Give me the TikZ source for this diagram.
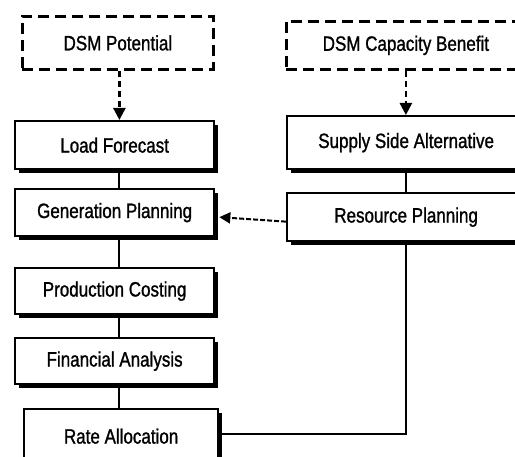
\documentclass[tikz,border=0pt]{standalone}
\usepackage{fontspec}
\setmainfont{Liberation Sans}
\newfontfamily\lblfont[FakeBold=1.3]{Liberation Sans}
\usepackage{graphicx}
\usetikzlibrary{arrows.meta,shadows}
\newcommand{\tl}[1]{\scalebox{1}[1.22]{#1}}
\begin{document}
\begin{tikzpicture}[x=1pt,y=-1pt,
  lbl/.style={font=\lblfont\fontsize{17}{20}\selectfont},
  solidbox/.style={draw, line width=2.3pt, fill=white, anchor=north west, inner sep=0pt, lbl,
    drop shadow={shadow xshift=4pt, shadow yshift=-4pt, fill=black, opacity=1}},
  dashbox/.style={draw, line width=2.8pt, dash pattern=on 11pt off 6pt, anchor=north west, inner sep=0pt, lbl},
  link/.style={line width=2.2pt},
  dlink/.style={line width=2.4pt, dash pattern=on 6pt off 4pt, -{Triangle[length=12pt,width=12pt]}},
  flink/.style={line width=2pt, dash pattern=on 5pt off 2pt, -{Triangle[length=11pt,width=11pt]}}
]
\useasboundingbox (0,0) rectangle (515,457);
\node[dashbox, minimum width=191pt, minimum height=53pt] (dsmp) at (21,15) {\tl{DSM Potential}};
\node[solidbox, minimum width=199pt, minimum height=48pt] (lf) at (14,120) {\tl{Load Forecast}};
\node[solidbox, minimum width=199pt, minimum height=47pt] (gp) at (14,188) {\tl{Generation Planning}};
\node[solidbox, minimum width=199pt, minimum height=46pt] (pc) at (14,267) {\tl{Production Costing}};
\node[solidbox, minimum width=199pt, minimum height=46pt] (fa) at (14,337) {\tl{Financial Analysis}};
\node[solidbox, minimum width=194pt, minimum height=54pt] (ra) at (23,408) {\tl{Rate Allocation}};
\node[dashbox, minimum width=239pt, minimum height=48pt] (dsmcb) at (285,20) {\tl{DSM Capacity Benefit}};
\node[solidbox, minimum width=238pt, minimum height=53pt] (ssa) at (286,115) {\tl{Supply Side Alternative}};
\node[solidbox, minimum width=238pt, minimum height=48pt] (rp) at (286,192) {\tl{Resource Planning}};

\draw[dlink] ([xshift=1.5pt]dsmp.south) -- ([xshift=1.5pt]dsmp.south |- lf.north);
\draw[dlink] (dsmcb.south) -- (dsmcb.south |- ssa.north);
\draw[link] ([xshift=4.5pt]lf.south) -- ([xshift=4.5pt]gp.north);
\draw[link] ([xshift=4.5pt]gp.south) -- ([xshift=4.5pt]pc.north);
\draw[link] ([xshift=4.5pt]pc.south) -- ([xshift=4.5pt]fa.north);
\draw[link] ([xshift=4.5pt]fa.south) -- ([xshift=4.5pt]fa.south |- ra.north);
\draw[link] (ssa.south) -- (ssa.south |- rp.north);
\draw[link] (rp.south) |- ([yshift=2pt]ra.east);
\draw[flink] ([yshift=-4.5pt]rp.west) -- ([xshift=4pt,yshift=-4.5pt]gp.east);
\end{tikzpicture}
\end{document}
